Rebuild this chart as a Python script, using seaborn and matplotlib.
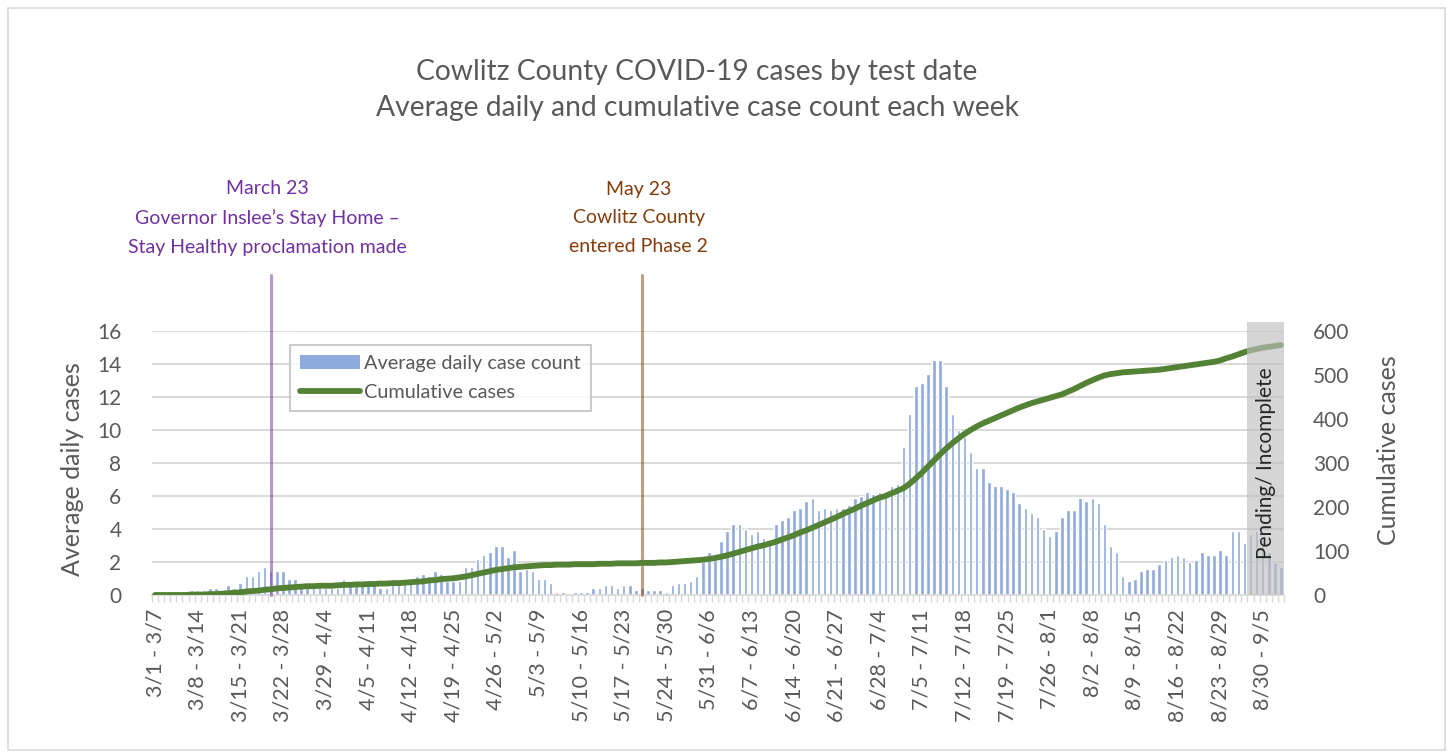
import numpy as np
import pandas as pd
import matplotlib
matplotlib.use("Agg")
import matplotlib.pyplot as plt
import matplotlib.transforms as mtransforms
import seaborn as sns
from matplotlib.patches import Rectangle, Patch
from matplotlib.lines import Line2D

# ---------------- data ----------------
week_labels = ["3/1 - 3/7", "3/8 - 3/14", "3/15 - 3/21", "3/22 - 3/28", "3/29 - 4/4",
               "4/5 - 4/11", "4/12 - 4/18", "4/19 - 4/25", "4/26 - 5/2", "5/3 - 5/9",
               "5/10 - 5/16", "5/17 - 5/23", "5/24 - 5/30", "5/31 - 6/6", "6/7 - 6/13",
               "6/14 - 6/20", "6/21 - 6/27", "6/28 - 7/4", "7/5 - 7/11", "7/12 - 7/18",
               "7/19 - 7/25", "7/26 - 8/1", "8/2 - 8/8", "8/9 - 8/15", "8/16 - 8/22",
               "8/23 - 8/29", "8/30 - 9/5"]

daily_avg = [
    0, 0, 0, 0, 0, 0,
    0.28, 0.28, 0.28, 0.44, 0.44, 0.28, 0.59, 0.44, 0.73,
    1.15, 1.15, 1.43, 1.71, 1.43, 1.43, 1.43, 1.0, 1.0, 0.73,
    0.42, 0.42, 0.73, 0.42, 0.42, 0.42,
    1.0, 0.87, 0.87, 0.85, 0.73, 0.59, 0.44, 0.44, 0.59, 0.73,
    1.0, 1.0, 1.15, 1.29, 1.15, 1.43, 1.29, 0.87, 0.87, 0.87,
    1.71, 1.71, 2.18, 2.42, 2.58, 3.0, 3.0, 2.3, 2.74,
    1.43, 1.57, 1.43, 1.0, 1.0, 0.73, 0.16, 0.16, 0, 0.16,
    0.16, 0.16, 0.44, 0.44, 0.59, 0.59, 0.44, 0.59, 0.59, 0.28,
    0.42, 0.28, 0.28, 0.28, 0.16, 0.59, 0.73, 0.73, 0.87, 1.15,
    2.0, 2.58, 2.1, 3.29, 3.85, 4.3, 4.3, 4.0, 3.71, 3.85,
    3.43, 3.15, 4.3, 4.56, 4.7, 5.14, 5.29, 5.71, 5.85, 5.14,
    5.29, 5.14, 5.29, 5.29, 5.43, 5.85, 6.0, 6.27, 6.13, 6.27,
    6.27, 6.58, 6.72, 8.98, 10.95, 12.67, 12.83, 13.4, 14.24, 14.24,
    12.67, 10.95, 9.99, 9.56, 8.69, 7.71, 7.71, 6.84, 6.58, 6.58,
    6.42, 6.27, 5.57, 5.29, 5.0, 4.7, 4.0, 3.57, 3.85, 4.7,
    5.14, 5.14, 5.85, 5.71, 5.85, 5.57, 4.3, 3.0, 2.58, 1.15,
    0.87, 1.0, 1.43, 1.57, 1.57, 1.86, 2.14, 2.3, 2.42, 2.3,
    2.0, 2.14, 2.58, 2.42, 2.42, 2.72, 2.42, 3.85, 3.85, 3.15,
    3.71, 3.85, 3.4, 2.6, 2.0, 1.71,
]

cumulative = [
    0, 0, 0, 0, 0, 0, 1, 1, 1, 2,
    2, 3, 4, 5, 6, 8, 9, 10, 12, 13,
    15, 16, 17, 18, 19, 20, 20, 21, 21, 21,
    22, 23, 23, 24, 24, 25, 25, 26, 26, 27,
    27, 28, 29, 30, 31, 33, 34, 36, 37, 38,
    40, 42, 45, 48, 51, 54, 57, 59, 61, 63,
    64, 65, 66, 67, 68, 68, 69, 69, 69, 70,
    70, 70, 70, 71, 71, 71, 72, 72, 72, 72,
    73, 73, 73, 74, 74, 75, 76, 77, 78, 79,
    80, 82, 84, 87, 90, 94, 98, 102, 106, 110,
    113, 117, 121, 126, 131, 136, 142, 147, 153, 159,
    165, 171, 177, 184, 190, 196, 203, 209, 215, 221,
    225, 231, 237, 243, 253, 265, 278, 292, 306, 320,
    333, 345, 356, 366, 375, 383, 390, 396, 402, 408,
    414, 420, 426, 431, 436, 440, 444, 448, 452, 456,
    462, 468, 475, 482, 488, 494, 499, 502, 504, 506,
    507, 508, 509, 510, 511, 512, 514, 516, 518, 520,
    522, 524, 526, 528, 530, 533, 538, 542, 547, 552,
    556, 559, 562, 564, 566, 568,
]

event_days = [19, 80]          # category index of the two event lines
pending_start = 180            # first category in the pending/incomplete box

# ---------------- style ----------------
sns.set_theme(style="white")
plt.rcParams["font.family"] = ["Lato", "DejaVu Sans"]
GREY_TXT = "#595959"
GRID = "#d9d9d9"
BAR_C = "#8faadc"
LINE_C = "#548235"
PURPLE = "#7030a0"
BROWN = "#843c0c"

W, H = 1453, 756
fig = plt.figure(figsize=(W / 100, H / 100), dpi=100)
fig.patch.set_facecolor("white")
fig.patches.append(Rectangle((8 / W, 6 / H), (W - 16) / W, (H - 14) / H,
                             transform=fig.transFigure, fill=False,
                             edgecolor=GRID, linewidth=1.2))

L, R, T, B = 152, 1284, 331, 595
ax = fig.add_axes([L / W, 1 - B / H, (R - L) / W, (B - T) / H])

n = len(daily_avg)
df = pd.DataFrame({"day": np.arange(n), "avg": daily_avg, "cum": cumulative})

sns.barplot(data=df, x="day", y="avg", color=BAR_C, saturation=1, width=0.58,
            ax=ax, zorder=2)
ax.set_xlim(-0.5, n - 0.5)
ax.set_ylim(0, 16)
ax.set_yticks(np.arange(0, 17, 2))
ax.yaxis.grid(True, color=GRID, linewidth=1.4)
ax.set_axisbelow(True)
for s in ["left", "right", "top"]:
    ax.spines[s].set_visible(False)
ax.spines["bottom"].set_color(GRID)
ax.spines["bottom"].set_linewidth(1.2)

ax.set_xticks(np.arange(0, n, 7))
ax.set_xticklabels(week_labels, rotation=90, fontsize=15.5, color=GREY_TXT)
ax.set_xticks(np.arange(-0.5, n, 1), minor=True)
ax.tick_params(axis="x", which="major", length=0, pad=10)
ax.tick_params(axis="x", which="minor", length=5, color=GRID, width=1, bottom=True)
ax.tick_params(axis="y", length=0, pad=22, labelsize=15, labelcolor=GREY_TXT)
ax.set_xlabel("")
ax.set_ylabel("")

# event lines
xblend = mtransforms.blended_transform_factory(ax.transData, ax.transAxes)
for d, c in zip(event_days, [PURPLE, BROWN]):
    ax.plot([d, d], [0, (B - 275) / (B - T)], transform=xblend, color=c,
            alpha=0.5, linewidth=2.2, clip_on=False, zorder=3)

# cumulative line
ax2 = ax.twinx()
sns.lineplot(data=df, x="day", y="cum", ax=ax2, color=LINE_C, linewidth=4.2,
             solid_capstyle="round")
ax2.set_ylim(0, 600)
ax2.set_yticks(np.arange(0, 601, 100))
ax2.tick_params(axis="y", length=0, pad=21, labelsize=15, labelcolor=GREY_TXT)
ax2.set_ylabel("")
ax2.set_xlabel("")
for s in ["left", "right", "top", "bottom"]:
    ax2.spines[s].set_visible(False)
ax2.grid(False)
ax2.set_xlim(-0.5, n - 0.5)

# pending / incomplete box
x2blend = mtransforms.blended_transform_factory(ax2.transData, ax2.transAxes)
ax2.add_patch(Rectangle((pending_start - 0.5, 0), n - pending_start, (B - 322) / (B - T),
                        transform=x2blend, facecolor="#bfbfbf", alpha=0.65,
                        edgecolor="none", clip_on=False, zorder=5))
ax2.text((pending_start - 0.5 + n - 0.5) / 2, (B - 463) / (B - T), "Pending/ Incomplete",
         transform=x2blend, rotation=90, ha="center", va="center",
         fontsize=15, color="#262626", zorder=6)

# legend
handles = [Patch(facecolor=BAR_C, edgecolor="none"),
           Line2D([0], [0], color=LINE_C, linewidth=4.2, solid_capstyle="round")]
leg = ax2.legend(handles, ["Average daily case count", "Cumulative cases"],
                 loc="upper left", bbox_to_anchor=((290 - L) / (R - L), (B - 345) / (B - T)),
                 frameon=True, fancybox=False, fontsize=14.3, handlelength=3.0,
                 handletextpad=0.25, borderpad=0.5, labelspacing=0.6,
                 labelcolor=GREY_TXT, borderaxespad=0)
leg.get_frame().set_edgecolor("#bfbfbf")
leg.get_frame().set_linewidth(1.5)
leg.set_zorder(7)

# titles & axis titles
fig.text(697 / W, 1 - 72 / H, "Cowlitz County COVID-19 cases by test date",
         ha="center", va="center", fontsize=20.3, color=GREY_TXT)
fig.text(697 / W, 1 - 108 / H, "Average daily and cumulative case count each week",
         ha="center", va="center", fontsize=20.3, color=GREY_TXT)
fig.text(72 / W, 1 - 469 / H, "Average daily cases", rotation=90,
         ha="center", va="center", fontsize=18, color=GREY_TXT)
fig.text(1388 / W, 1 - 450 / H, "Cumulative cases", rotation=90,
         ha="center", va="center", fontsize=18, color=GREY_TXT)

# event annotations
fblend = mtransforms.blended_transform_factory(ax.transData, fig.transFigure)
purple_lines = ["March 23", "Governor Inslee\u2019s Stay Home \u2013", "Stay Healthy proclamation made"]
brown_lines = ["May 23", "Cowlitz County", "entered Phase 2"]
for lines, d, c in [(purple_lines, event_days[0], PURPLE), (brown_lines, event_days[1], BROWN)]:
    for k, t in enumerate(lines):
        fig.text(d - 0.5, 1 - (189 + 29 * k) / H, t, transform=fblend,
                 ha="center", va="center", fontsize=14, color=c)

fig.savefig("out.png", dpi=100)
